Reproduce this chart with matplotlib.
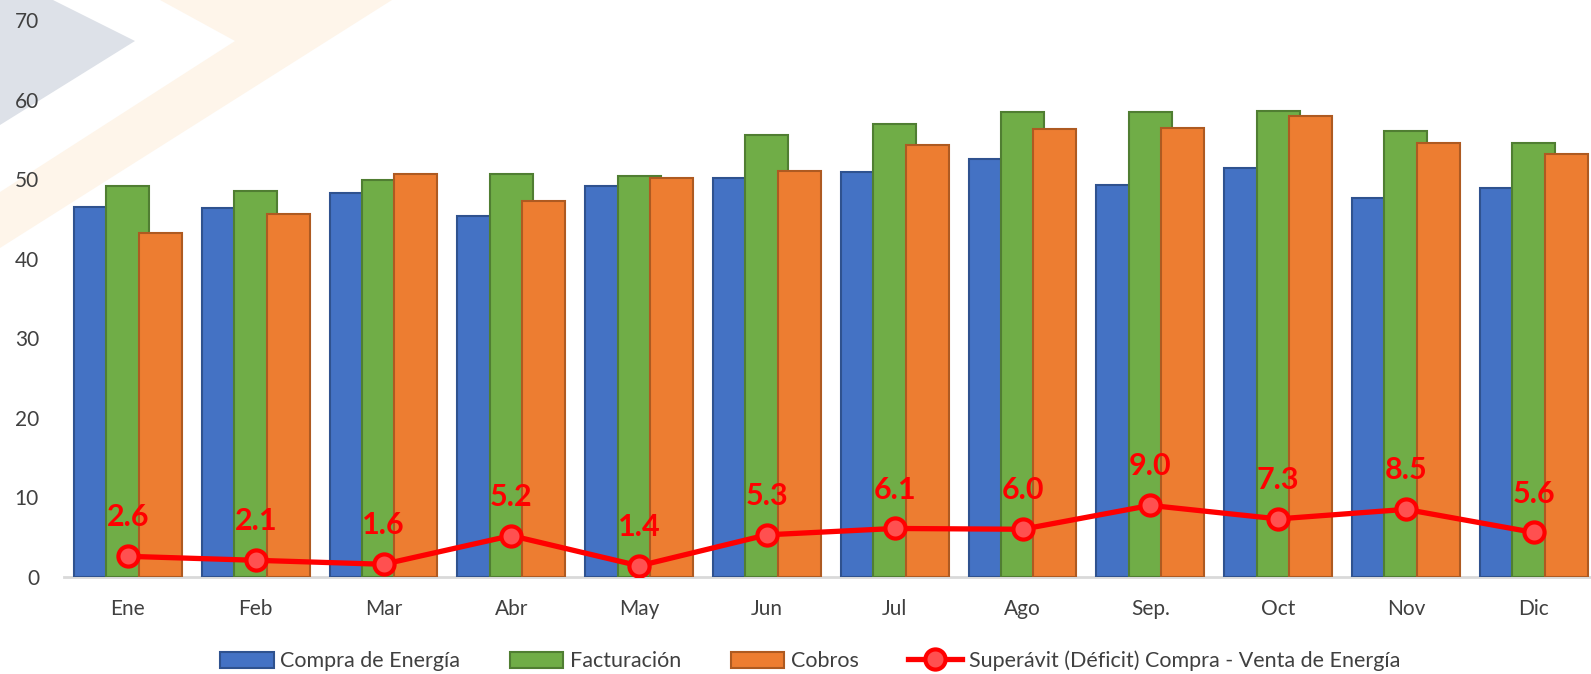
import matplotlib.pyplot as plt
import matplotlib.patches as mpatches
import numpy as np

# Monthly values
meses = ['Ene', 'Feb', 'Mar', 'Abr', 'May', 'Jun', 'Jul', 'Ago', 'Sep.', 'Oct', 'Nov', 'Dic']
compra = [46.5, 46.4, 48.3, 45.4, 49.1, 50.1, 50.9, 52.5, 49.3, 51.4, 47.6, 48.9]
facturacion = [49.1, 48.5, 49.9, 50.6, 50.4, 55.5, 56.9, 58.5, 58.4, 58.6, 56.1, 54.5]
cobros = [43.2, 45.6, 50.6, 47.3, 50.2, 51.0, 54.3, 56.3, 56.4, 57.9, 54.6, 53.2]
superavit = [2.6, 2.1, 1.6, 5.2, 1.4, 5.3, 6.1, 6.0, 9.0, 7.3, 8.5, 5.6]

plt.rcParams['font.family'] = ['Lato', 'DejaVu Sans']
txt_color = '#404040'

fig = plt.figure(figsize=(15.91, 6.74), dpi=100)

# faint watermark shapes in the background (pixel coords -> figure fraction)
W, H = 1591, 674
def px(pts):
    return [(x / W, 1 - y / H) for x, y in pts]

fig.patches.append(mpatches.Polygon(px([(0, 0), (53, 0), (135, 41), (0, 125)]),
                                    closed=True, transform=fig.transFigure,
                                    facecolor='#DDE1E8', edgecolor='none', zorder=-5))
fig.patches.append(mpatches.Polygon(px([(160, 0), (235, 41), (0, 192), (0, 248), (392, 0)]),
                                    closed=True, transform=fig.transFigure,
                                    facecolor='#FEF5EA', edgecolor='none', zorder=-5))

ax = fig.add_axes([64 / W, 1 - 577 / H, 1533.6 / W, (577 - 20) / H])
ax.set_facecolor('none')
ax.set_zorder(2)

x = np.arange(len(meses))
w = 0.337
off = 0.254
b1 = ax.bar(x - off, compra, w, color='#4472C4', edgecolor='#2F528F', linewidth=1.5,
            label='Compra de Energía', zorder=2)
b2 = ax.bar(x, facturacion, w, color='#70AD47', edgecolor='#507E32', linewidth=1.5,
            label='Facturación', zorder=3)
b3 = ax.bar(x + off, cobros, w, color='#ED7D31', edgecolor='#AE5A21', linewidth=1.5,
            label='Cobros', zorder=4)
ln, = ax.plot(x, superavit, '-o', color='#FF0000', linewidth=3.8, markersize=14.5,
              markerfacecolor='#FF5050', markeredgecolor='#FF0000', markeredgewidth=3,
              label='Superávit (Déficit) Compra - Venta de Energía', zorder=6)

for xi, v in zip(x, superavit):
    ax.annotate(f'{v:.1f}', (xi, v), xytext=(0, 28), textcoords='offset points',
                ha='center', va='center', color='#FF0000', fontsize=22,
                fontweight='bold', zorder=7)

ax.set_xlim(-0.5, len(meses) - 0.5)
ax.set_ylim(0, 70)
ax.set_yticks(np.arange(0, 71, 10))
ax.set_xticks(x)
ax.set_xticklabels(meses)
ax.tick_params(axis='y', length=0, pad=18, labelsize=15, labelcolor=txt_color)
ax.tick_params(axis='x', length=0, pad=16, labelsize=15, labelcolor=txt_color)
for s in ['top', 'right', 'left']:
    ax.spines[s].set_visible(False)
ax.spines['bottom'].set_color('#D9D9D9')
ax.spines['bottom'].set_linewidth(2)
ax.spines['bottom'].set_zorder(1)

leg = fig.legend([b1, b2, b3, ln], [b1.get_label(), b2.get_label(), b3.get_label(), ln.get_label()],
                 loc='center', bbox_to_anchor=(0.509, 1 - 661 / H), ncol=4,
                 frameon=False, fontsize=15.5, handlelength=2.5, handleheight=0.8,
                 handletextpad=0.3, columnspacing=2.3, labelcolor=txt_color)

fig.savefig('out.png', dpi=100)
